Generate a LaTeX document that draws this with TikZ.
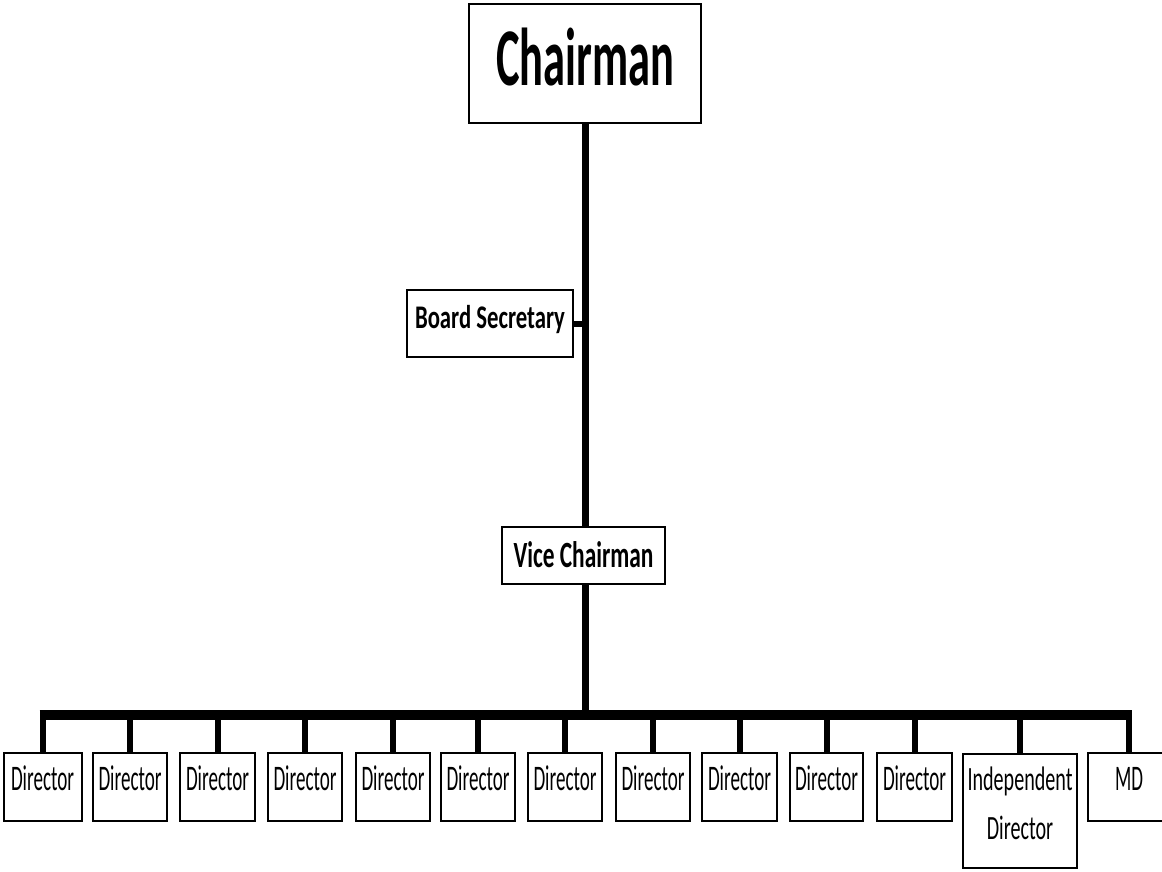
\documentclass[tikz,border=0pt]{standalone}
\usepackage{fontspec}
\setmainfont{Carlito}
\usetikzlibrary{calc}
\newcommand{\fitw}[2]{\resizebox{#1}{\height}{#2}}
\begin{document}
\begin{tikzpicture}[x=1pt,y=-1pt,
  box/.style={draw=black, line width=2pt, inner sep=0pt, outer sep=0pt, text=black},
  dirbox/.style={box, minimum height=68pt, text height=23pt, text depth=17pt, font=\fontsize{36}{40}\selectfont},
  trunk/.style={draw=black, line width=7pt},
  busline/.style={draw=black, line width=10pt},
  dropline/.style={draw=black, line width=6pt},
]
\useasboundingbox[fill=white] (0,0) rectangle (1162,871);

% top-level boxes
\node[box, minimum width=232pt, minimum height=119pt, text height=53pt, text depth=10pt,
      font=\fontsize{82}{90}\selectfont\bfseries] (chair) at (585,63.5) {\fitw{178pt}{Chairman}};
\node[box, minimum width=166pt, minimum height=67pt, text height=21pt, text depth=12pt,
      font=\fontsize{33}{38}\selectfont\bfseries] (bs) at (490,323.5) {\fitw{150pt}{Board Secretary}};
\node[box, minimum width=163pt, minimum height=57pt, text height=24pt, text depth=1pt,
      font=\fontsize{37}{42}\selectfont\bfseries] (vice) at (583.5,555.5) {\fitw{140pt}{Vice Chairman}};

% bottom row
\foreach \i/\x/\w in {1/42.5/78, 2/130/74, 3/217.5/75, 4/305/74, 5/393/74, 6/478/74,
                      7/565/74, 8/653/74, 9/739.5/75, 10/826.5/73, 11/914.5/75}
  \node[dirbox, minimum width=\w pt] (d\i) at (\x,787) {\fitw{63pt}{Director}};
\node[box, minimum width=114pt, minimum height=114pt, text height=22pt, text depth=64pt,
      font=\fontsize{34}{49}\selectfont] (ind) at (1020,811)
      {\fitw{105pt}{\begin{tabular}[t]{@{}c@{}}Independent\\Director\end{tabular}}};
\node[dirbox, minimum width=82pt] (md) at (1129,787) {\fitw{28pt}{MD}};

% connectors
\coordinate (bus) at (585,715);
\draw[trunk] (chair.south) -- (chair.south |- vice.north);
\draw[trunk] (chair.south |- vice.south) -- (chair.south |- bus);
\draw[dropline] (bs.east) -- (bs.east -| chair.south);
\foreach \n in {d1,d2,d3,d4,d5,d6,d7,d8,d9,d10,d11,ind,md}
  \draw[dropline] (\n.north) -- (\n.north |- bus);
\draw[busline] ($(d1.north |- bus)+(-3,0)$) -- ($(md.north |- bus)+(3,0)$);
\end{tikzpicture}
\end{document}
